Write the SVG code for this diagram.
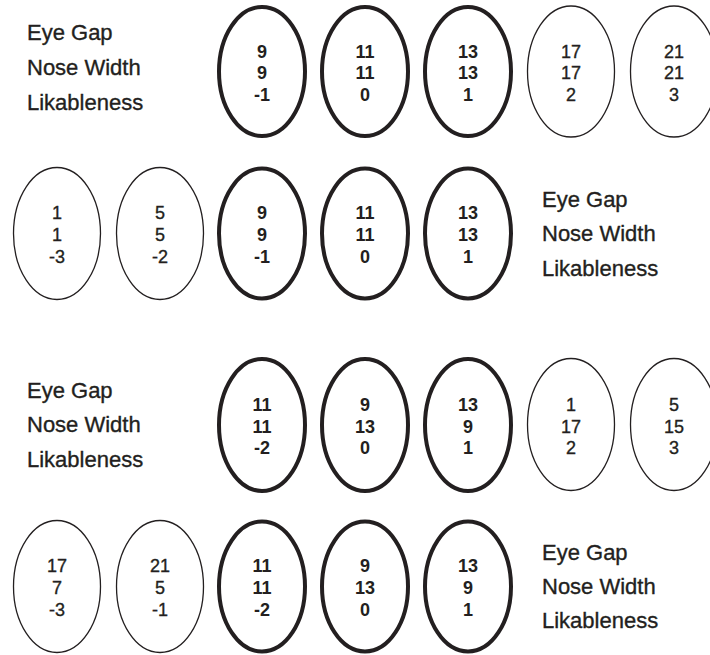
<svg xmlns="http://www.w3.org/2000/svg" width="710" height="655" viewBox="0 0 710 655">
<style>
  .bold { fill: none; stroke: #231f20; stroke-width: 4; }
  .thin { fill: none; stroke: #231f20; stroke-width: 1.3; }
  .num { font-family: "Liberation Sans", Arial, sans-serif; font-size: 18px; fill: #231f20; stroke: #231f20; stroke-width: 0.35; text-anchor: middle; }
  .numb { font-family: "Liberation Sans", Arial, sans-serif; font-size: 18px; font-weight: bold; fill: #231f20; text-anchor: middle; }
  .lab { font-family: "Liberation Sans", Arial, sans-serif; font-size: 22px; fill: #231f20; stroke: #231f20; stroke-width: 0.35; }
</style>
<rect width="710" height="655" fill="#ffffff"/>

<!-- Row 1 -->
<g id="labels1">
  <text class="lab" x="27" y="40">Eye Gap</text>
  <text class="lab" x="27" y="75">Nose Width</text>
  <text class="lab" x="27" y="110">Likableness</text>
</g>
<g id="r1n1"><ellipse class="bold" cx="262" cy="71.5" rx="43" ry="64.5"/><text class="numb" x="262" y="57.5">9</text><text class="numb" x="262" y="79">9</text><text class="numb" x="262" y="100.5">-1</text></g>
<g id="r1n2"><ellipse class="bold" cx="365" cy="71.5" rx="43" ry="64.5"/><text class="numb" x="365" y="57.5">11</text><text class="numb" x="365" y="79">11</text><text class="numb" x="365" y="100.5">0</text></g>
<g id="r1n3"><ellipse class="bold" cx="468" cy="71.5" rx="43" ry="64.5"/><text class="numb" x="468" y="57.5">13</text><text class="numb" x="468" y="79">13</text><text class="numb" x="468" y="100.5">1</text></g>
<g id="r1n4"><ellipse class="thin" cx="571" cy="71.5" rx="43.5" ry="65.5"/><text class="num" x="571" y="57.5">17</text><text class="num" x="571" y="79">17</text><text class="num" x="571" y="100.5">2</text></g>
<g id="r1n5"><ellipse class="thin" cx="674" cy="71.5" rx="43.5" ry="65.5"/><text class="num" x="674" y="57.5">21</text><text class="num" x="674" y="79">21</text><text class="num" x="674" y="100.5">3</text></g>

<!-- Row 2 -->
<g id="r2n1"><ellipse class="thin" cx="57" cy="233.5" rx="43.5" ry="66"/><text class="num" x="57" y="219">1</text><text class="num" x="57" y="241">1</text><text class="num" x="57" y="263">-3</text></g>
<g id="r2n2"><ellipse class="thin" cx="160" cy="233.5" rx="43.5" ry="66"/><text class="num" x="160" y="219">5</text><text class="num" x="160" y="241">5</text><text class="num" x="160" y="263">-2</text></g>
<g id="r2n3"><ellipse class="bold" cx="262" cy="233.5" rx="43" ry="65"/><text class="numb" x="262" y="219">9</text><text class="numb" x="262" y="241">9</text><text class="numb" x="262" y="263">-1</text></g>
<g id="r2n4"><ellipse class="bold" cx="365" cy="233.5" rx="43" ry="65"/><text class="numb" x="365" y="219">11</text><text class="numb" x="365" y="241">11</text><text class="numb" x="365" y="263">0</text></g>
<g id="r2n5"><ellipse class="bold" cx="468" cy="233.5" rx="43" ry="65"/><text class="numb" x="468" y="219">13</text><text class="numb" x="468" y="241">13</text><text class="numb" x="468" y="263">1</text></g>
<g id="labels2">
  <text class="lab" x="542" y="207">Eye Gap</text>
  <text class="lab" x="542" y="241">Nose Width</text>
  <text class="lab" x="542" y="276">Likableness</text>
</g>

<!-- Row 3 -->
<g id="labels3">
  <text class="lab" x="27" y="398">Eye Gap</text>
  <text class="lab" x="27" y="432">Nose Width</text>
  <text class="lab" x="27" y="467">Likableness</text>
</g>
<g id="r3n1"><ellipse class="bold" cx="262" cy="425" rx="43" ry="66"/><text class="numb" x="262" y="411">11</text><text class="numb" x="262" y="433">11</text><text class="numb" x="262" y="454">-2</text></g>
<g id="r3n2"><ellipse class="bold" cx="365" cy="425" rx="43" ry="66"/><text class="numb" x="365" y="411">9</text><text class="numb" x="365" y="433">13</text><text class="numb" x="365" y="454">0</text></g>
<g id="r3n3"><ellipse class="bold" cx="468" cy="425" rx="43" ry="66"/><text class="numb" x="468" y="411">13</text><text class="numb" x="468" y="433">9</text><text class="numb" x="468" y="454">1</text></g>
<g id="r3n4"><ellipse class="thin" cx="571" cy="424.5" rx="43.5" ry="66"/><text class="num" x="571" y="411">1</text><text class="num" x="571" y="433">17</text><text class="num" x="571" y="454">2</text></g>
<g id="r3n5"><ellipse class="thin" cx="674" cy="424.5" rx="43.5" ry="66"/><text class="num" x="674" y="411">5</text><text class="num" x="674" y="433">15</text><text class="num" x="674" y="454">3</text></g>

<!-- Row 4 -->
<g id="r4n1"><ellipse class="thin" cx="57" cy="586.5" rx="43.5" ry="66"/><text class="num" x="57" y="572">17</text><text class="num" x="57" y="594">7</text><text class="num" x="57" y="615.5">-3</text></g>
<g id="r4n2"><ellipse class="thin" cx="160" cy="586.5" rx="43.5" ry="66"/><text class="num" x="160" y="572">21</text><text class="num" x="160" y="594">5</text><text class="num" x="160" y="615.5">-1</text></g>
<g id="r4n3"><ellipse class="bold" cx="262" cy="586.5" rx="43" ry="65"/><text class="numb" x="262" y="572">11</text><text class="numb" x="262" y="594">11</text><text class="numb" x="262" y="615.5">-2</text></g>
<g id="r4n4"><ellipse class="bold" cx="365" cy="586.5" rx="43" ry="65"/><text class="numb" x="365" y="572">9</text><text class="numb" x="365" y="594">13</text><text class="numb" x="365" y="615.5">0</text></g>
<g id="r4n5"><ellipse class="bold" cx="468" cy="586.5" rx="43" ry="65"/><text class="numb" x="468" y="572">13</text><text class="numb" x="468" y="594">9</text><text class="numb" x="468" y="615.5">1</text></g>
<g id="labels4">
  <text class="lab" x="542" y="560">Eye Gap</text>
  <text class="lab" x="542" y="594">Nose Width</text>
  <text class="lab" x="542" y="628">Likableness</text>
</g>
<g id="connectors"></g>
</svg>
